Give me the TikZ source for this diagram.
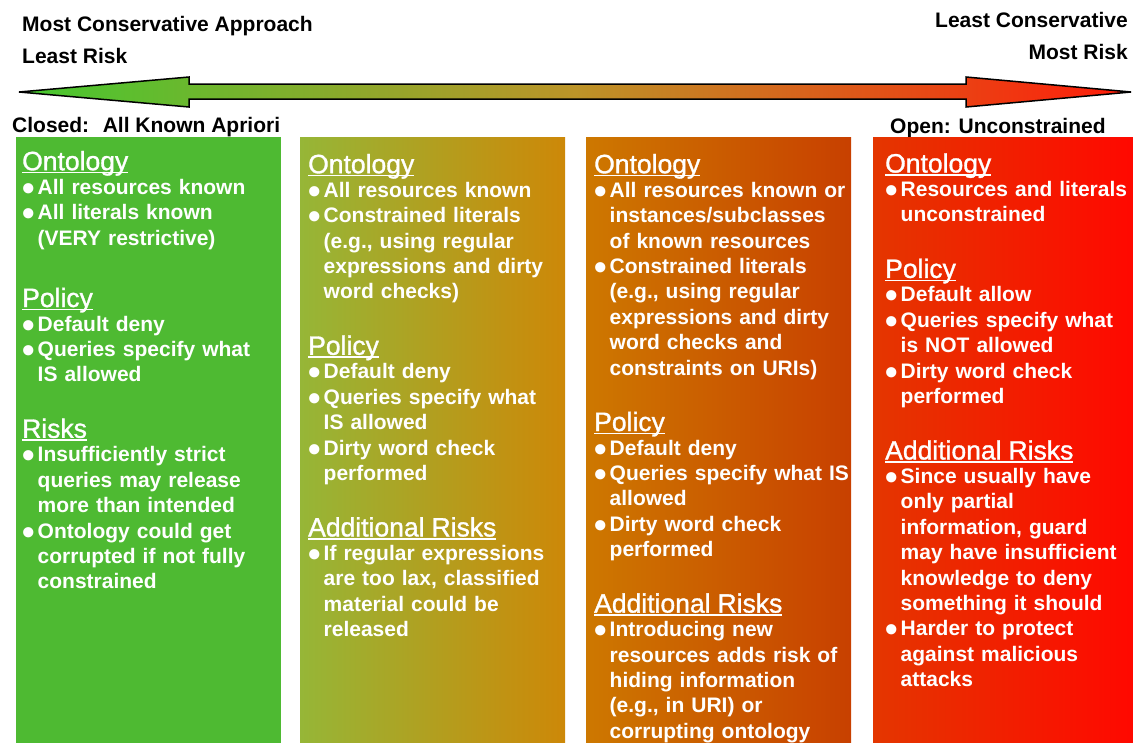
\documentclass[tikz,border=0pt]{standalone}
\usepackage{fontspec}
\setmainfont{Liberation Sans}
\newfontfamily\hdfont{Liberation Sans}[FakeBold=1.2]
\usetikzlibrary{%
  calc,%
  positioning% wg. " of "
}

\definecolor{grnfill}{RGB}{78,186,50}
\definecolor{olivefill}{RGB}{150,182,55}
\definecolor{amberfill}{RGB}{205,136,8}
\definecolor{orangefill}{RGB}{205,120,0}
\definecolor{rustfill}{RGB}{200,64,0}
\definecolor{scarletfill}{RGB}{228,54,0}
\definecolor{redfill}{RGB}{255,8,0}
\definecolor{arrowgrn}{RGB}{70,200,48}
\definecolor{arrowmid}{RGB}{188,148,40}
\definecolor{arrowred}{RGB}{255,28,10}

\newcommand{\colfont}{\bfseries\fontsize{21}{25.4}\selectfont\lineskiplimit=-\maxdimen\relax}
\newcommand{\hd}[1]{\leavevmode\setbox0\hbox{\hdfont\mdseries\fontsize{26.5}{25.4}\selectfont #1}%
  \rlap{\rule[-3.2pt]{\wd0}{1.6pt}}\box0}
\newcommand{\itm}[1]{\leavevmode\makebox[15.5pt][l]{\raisebox{-6pt}{\scalebox{1.7}{\textbullet}}}#1}
\newcommand{\cnt}[1]{\leavevmode\hspace*{15.5pt}#1}

\begin{document}
\begin{tikzpicture}
  [
  x=1pt, y=-1pt, font=\bfseries\fontsize{21}{25.4}\selectfont,
  toplabel/.style={inner sep=0pt, text=black},
  column/.style={rectangle, inner sep=0pt, minimum width=265pt, minimum height=606pt, anchor=north west},
  coltext/.style={inner sep=0pt, anchor=north west, text=white, text width=260pt, align=left, font=\colfont},
  ]
  \useasboundingbox (0,0) rectangle (1133,742);

  % scale of risk
  \node[toplabel, anchor=base west] (most) at (22,31.5) {Most Conservative Approach};
  \node[toplabel, anchor=base west] (leastrisk) at (22,63.5) {Least Risk};
  \node[toplabel, anchor=base east] (least) at (1128,27.5) {Least Conservative};
  \node[toplabel, anchor=base east] (mostrisk) at (1128,59.5) {Most Risk};
  \shadedraw[left color=arrowgrn, right color=arrowred, middle color=arrowmid,
    draw=black, line width=1.5pt, line join=miter]
    (19,92) -- (189,77) -- (189,84) -- (966,84) -- (966,77) -- (1131,92)
    -- (966,107) -- (966,99) -- (189,99) -- (189,107) -- cycle;
  \node[toplabel, anchor=base west] (closed) at (12,132.5) {Closed: \ All Known Apriori};
  \node[toplabel, anchor=base west] (open) at (890,133.5) {Open: Unconstrained};

  % columns
  \node[column, fill=grnfill] (col1) at (16,137) {};
  \node[column, left color=olivefill, right color=amberfill] (col2) at (300,137) {};
  \node[column, left color=orangefill, right color=rustfill] (col3) at (586,137) {};
  \node[column, minimum width=262pt, left color=scarletfill, right color=redfill] (col4) at (873,137) {};

  \node[coltext] (text1) at ($(col1.north west)+(6,13)$) {\rule{0pt}{20pt}\hd{Ontology}\\[-1.4pt]
    \itm{All resources known}\\
    \itm{All literals known}\\
    \cnt{(VERY restrictive)}\\[36.6pt]
    \hd{Policy}\\[-1.4pt]
    \itm{Default deny}\\
    \itm{Queries specify what}\\
    \cnt{IS allowed}\\[30.6pt]
    \hd{Risks}\\[-1.4pt]
    \itm{Insufficiently strict}\\
    \cnt{queries may release}\\
    \cnt{more than intended}\\
    \itm{Ontology could get}\\
    \cnt{corrupted if not fully}\\
    \cnt{constrained}};

  \node[coltext] (text2) at ($(col2.north west)+(8,16)$) {\rule{0pt}{20pt}\hd{Ontology}\\[-1.4pt]
    \itm{All resources known}\\
    \itm{Constrained literals}\\
    \cnt{(e.g., using regular}\\
    \cnt{expressions and dirty}\\
    \cnt{word checks)}\\[30.6pt]
    \hd{Policy}\\[-1.4pt]
    \itm{Default deny}\\
    \itm{Queries specify what}\\
    \cnt{IS allowed}\\
    \itm{Dirty word check}\\
    \cnt{performed}\\[30.6pt]
    \hd{Additional Risks}\\[-1.4pt]
    \itm{If regular expressions}\\
    \cnt{are too lax, classified}\\
    \cnt{material could be}\\
    \cnt{released}};

  \node[coltext] (text3) at ($(col3.north west)+(8,16)$) {\rule{0pt}{20pt}\hd{Ontology}\\[-1.4pt]
    \itm{All resources known or}\\
    \cnt{instances/subclasses}\\
    \cnt{of known resources}\\
    \itm{Constrained literals}\\
    \cnt{(e.g., using regular}\\
    \cnt{expressions and dirty}\\
    \cnt{word checks and}\\
    \cnt{constraints on URIs)}\\[30.6pt]
    \hd{Policy}\\[-1.4pt]
    \itm{Default deny}\\
    \itm{Queries specify what IS}\\
    \cnt{allowed}\\
    \itm{Dirty word check}\\
    \cnt{performed}\\[30.6pt]
    \hd{Additional Risks}\\[-1.4pt]
    \itm{Introducing new}\\
    \cnt{resources adds risk of}\\
    \cnt{hiding information}\\
    \cnt{(e.g., in URI) or}\\
    \cnt{corrupting ontology}};

  \node[coltext] (text4) at ($(col4.north west)+(12,15.3)$) {\rule{0pt}{20pt}\hd{Ontology}\\[-1.4pt]
    \itm{Resources and literals}\\
    \cnt{unconstrained}\\[30.6pt]
    \hd{Policy}\\[-1.4pt]
    \itm{Default allow}\\
    \itm{Queries specify what}\\
    \cnt{is NOT allowed}\\
    \itm{Dirty word check}\\
    \cnt{performed}\\[30.6pt]
    \hd{Additional Risks}\\[-1.4pt]
    \itm{Since usually have}\\
    \cnt{only partial}\\
    \cnt{information, guard}\\
    \cnt{may have insufficient}\\
    \cnt{knowledge to deny}\\
    \cnt{something it should}\\
    \itm{Harder to protect}\\
    \cnt{against malicious}\\
    \cnt{attacks}};

\end{tikzpicture}
\end{document}
